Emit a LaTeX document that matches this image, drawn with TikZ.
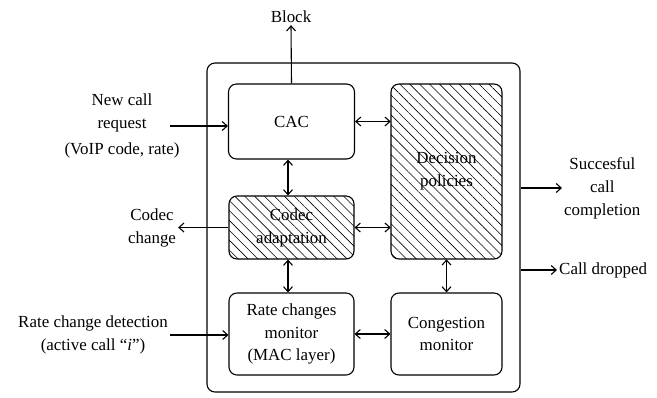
\documentclass[tikz,border=0pt]{standalone}
\usepackage{fontspec}
\setmainfont{Liberation Serif}
\usetikzlibrary{arrows.meta,patterns.meta}

\tikzset{
  blk/.style={draw,line width=1.1pt,rounded corners=8bp,align=center,inner sep=0pt},
  hatched/.style={blk,pattern={Lines[angle=-45,distance=7bp,line width=0.6pt]}},
  lbl/.style={align=center,inner sep=2bp},
  conn/.style={line width=1.1pt,-{Straight Barb[length=5bp,width=9bp]}},
  bconn/.style={line width=1.1pt,{Straight Barb[length=5bp,width=9bp]}-{Straight Barb[length=5bp,width=9bp]}}
}

\begin{document}
\begin{tikzpicture}[x=1bp,y=-1bp,font=\fontsize{17}{23}\selectfont]
    \useasboundingbox (0,0) rectangle (657,397);

    \node[blk,minimum width=313bp,minimum height=329bp] (outer) at (363.5,227.5) {};
    \node[blk,minimum width=126bp,minimum height=75bp] (cac) at (291.5,121.5) {CAC};
    \node[hatched,minimum width=111bp,minimum height=175bp] (dec) at (446.5,171.5) {};
    \node[align=center] at (dec) {Decision\\policies};
    \node[hatched,minimum width=125bp,minimum height=63bp] (codec) at (291.5,227.5) {};
    \node[align=center] at (codec) {Codec\\adaptation};
    \node[blk,minimum width=125bp,minimum height=82bp] (rate) at (291.5,334) {Rate changes\\monitor\\(MAC layer)};
    \node[blk,minimum width=111bp,minimum height=82bp] (cong) at (446.5,334) {Congestion\\monitor};

    % outside labels
    \node[lbl] (block) at (291,17) {Block};
    \node[lbl] (newcall) at (122,126) {New call\\request\\[3bp](VoIP code, rate)};
    \node[lbl] (codecchg) at (152,227.5) {Codec\\change};
    \node[lbl] (ratedet) at (93,335) {Rate change detection\\(active call ``\textit{i}'')};
    \node[lbl,anchor=west] (succ) at (562,188) {Succesful\\call\\completion};
    \node[lbl,anchor=west] (drop) at (557,270) {Call dropped};
    \coordinate (newin) at (170,126);
    \coordinate (ratein) at (170,335);

    \draw[conn] (cac.north) -- (block.south);
    \draw[conn] (newin) -- (cac.west |- newin);
    \draw[conn] (codec.west) -- (codecchg.east);
    \draw[conn] (ratein) -- (rate.west |- ratein);
    \draw[conn] (outer.east |- succ) -- (succ.west);
    \draw[conn] (outer.east |- drop) -- (drop.west);

    \draw[bconn] (cac.east) -- (dec.west |- cac.east);
    \draw[bconn] (cac.south -| 288,0) -- (codec.north -| 288,0);
    \draw[bconn] (codec.east) -- (dec.west |- codec.east);
    \draw[bconn] (codec.south -| 288,0) -- (rate.north -| 288,0);
    \draw[bconn] (dec.south) -- (cong.north);
    \draw[bconn] (rate.east) -- (cong.west);
\end{tikzpicture}
\end{document}
